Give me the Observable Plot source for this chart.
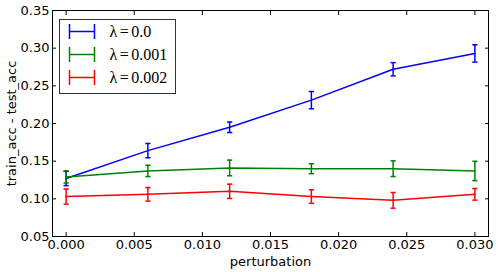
<!DOCTYPE html>
<html>
<head>
<meta charset="utf-8">
<script src="https://cdn.jsdelivr.net/npm/d3@7"></script>
<script src="https://cdn.jsdelivr.net/npm/@observablehq/plot@0.6"></script>
<style>
  html, body { margin: 0; padding: 0; background: white; }
  #chart { width: 498px; height: 272px; }
</style>
</head>
<body>
<div id="chart"></div>
<script>
const perturbation = [0, 0.006, 0.012, 0.018, 0.024, 0.030];
const seriesNames = ["λ=0.0", "λ=0.001", "λ=0.002"];
const seriesLambda = ["0.0", "0.001", "0.002"];
const seriesColors = ["#0000ff", "#008000", "#ff0000"];
const gap0 = [0.127, 0.164, 0.195, 0.231, 0.272, 0.293];
const err0 = [0.0095, 0.0095, 0.007, 0.0115, 0.0088, 0.0115];
const gap1 = [0.129, 0.137, 0.141, 0.140, 0.140, 0.137];
const err1 = [0.008, 0.0075, 0.0104, 0.0066, 0.0104, 0.0128];
const gap2 = [0.103, 0.106, 0.110, 0.103, 0.098, 0.106];
const err2 = [0.010, 0.009, 0.0095, 0.009, 0.0104, 0.0077];
const xTicks = [0, 0.005, 0.010, 0.015, 0.020, 0.025, 0.030];
const yTicks = [0.05, 0.10, 0.15, 0.20, 0.25, 0.30, 0.35];
const xDomain = [-0.001, 0.031];
const yDomain = [0.05, 0.35];

const gaps = [gap0, gap1, gap2];
const errs = [err0, err1, err2];
const data = [];
seriesNames.forEach((s, i) => {
  perturbation.forEach((x, j) => {
    data.push({series: s, x, y: gaps[i][j], lo: gaps[i][j] - errs[i][j], hi: gaps[i][j] + errs[i][j]});
  });
});

const cap = {
  draw(context, size) {
    const r = Math.sqrt(size / Math.PI);
    context.moveTo(-r, 0);
    context.lineTo(r, 0);
  }
};

const colorScale = {domain: seriesNames, range: seriesColors};

const plot = Plot.plot({
  width: 498,
  height: 272,
  marginLeft: 52,
  marginRight: 10,
  marginTop: 10,
  marginBottom: 36,
  style: {fontFamily: "DejaVu Sans", fontSize: "13px", color: "black", background: "white"},
  x: {domain: xDomain},
  y: {domain: yDomain},
  color: colorScale,
  marks: [
    Plot.axisX({ticks: xTicks, tickSize: 0, tickPadding: 3, tickFormat: d3.format(".3f"), label: null, fontSize: 13}),
    Plot.axisX({ticks: xTicks, tickSize: -4, tickFormat: () => "", label: null}),
    Plot.axisX({anchor: "top", ticks: xTicks, tickSize: -4, tickFormat: () => "", label: null}),
    Plot.axisY({ticks: yTicks, tickSize: 0, tickPadding: 3, tickFormat: d3.format(".2f"), label: null, fontSize: 13}),
    Plot.axisY({ticks: yTicks, tickSize: -4, tickFormat: () => "", label: null}),
    Plot.axisY({anchor: "right", ticks: yTicks, tickSize: -4, tickFormat: () => "", label: null}),
    Plot.line(data, {x: "x", y: "y", z: "series", stroke: "series", strokeWidth: 1.5}),
    Plot.ruleX(data, {x: "x", y1: "lo", y2: "hi", stroke: "series", strokeWidth: 1.5}),
    Plot.dot(data, {x: "x", y: "lo", symbol: cap, r: 2.6, stroke: "series", strokeWidth: 1.5}),
    Plot.dot(data, {x: "x", y: "hi", symbol: cap, r: 2.6, stroke: "series", strokeWidth: 1.5}),
    Plot.frame({stroke: "black", strokeWidth: 1}),
    Plot.text(["perturbation"], {frameAnchor: "bottom", dy: 29, fontSize: 13, fill: "black"}),
    Plot.text(["train_acc - test_acc"], {frameAnchor: "left", textAnchor: "middle", lineAnchor: "middle", rotate: -90, dx: -41, fontSize: 13, fill: "black"})
  ]
});

document.getElementById("chart").appendChild(plot);

// legend inside the plot (upper left)
const svg = d3.select(plot);
const lg = svg.append("g").attr("transform", "translate(59.5,19.5)");
lg.append("rect").attr("width", 116).attr("height", 74)
  .attr("fill", "white").attr("stroke", "#333").attr("stroke-width", 1);
seriesNames.forEach((s, i) => {
  const yy = 12 + i * 23;
  const g = lg.append("g").attr("transform", `translate(0,${yy})`);
  const c = seriesColors[i];
  g.append("line").attr("x1", 10).attr("x2", 35).attr("y1", 0).attr("y2", 0).attr("stroke", c).attr("stroke-width", 1.5);
  g.append("line").attr("x1", 10).attr("x2", 10).attr("y1", -7.5).attr("y2", 7.5).attr("stroke", c).attr("stroke-width", 1.5);
  g.append("line").attr("x1", 35).attr("x2", 35).attr("y1", -7.5).attr("y2", 7.5).attr("stroke", c).attr("stroke-width", 1.5);
  const t = g.append("text").attr("x", 50).attr("y", 5.5).attr("text-anchor", "start")
    .attr("font-family", "Liberation Serif, DejaVu Serif, serif").attr("font-size", 16).attr("fill", "black");
  t.append("tspan").text("λ");
  t.append("tspan").attr("dx", 2.5).text("=");
  t.append("tspan").attr("dx", 2.5).text(seriesLambda[i]);
});
</script>
</body>
</html>
